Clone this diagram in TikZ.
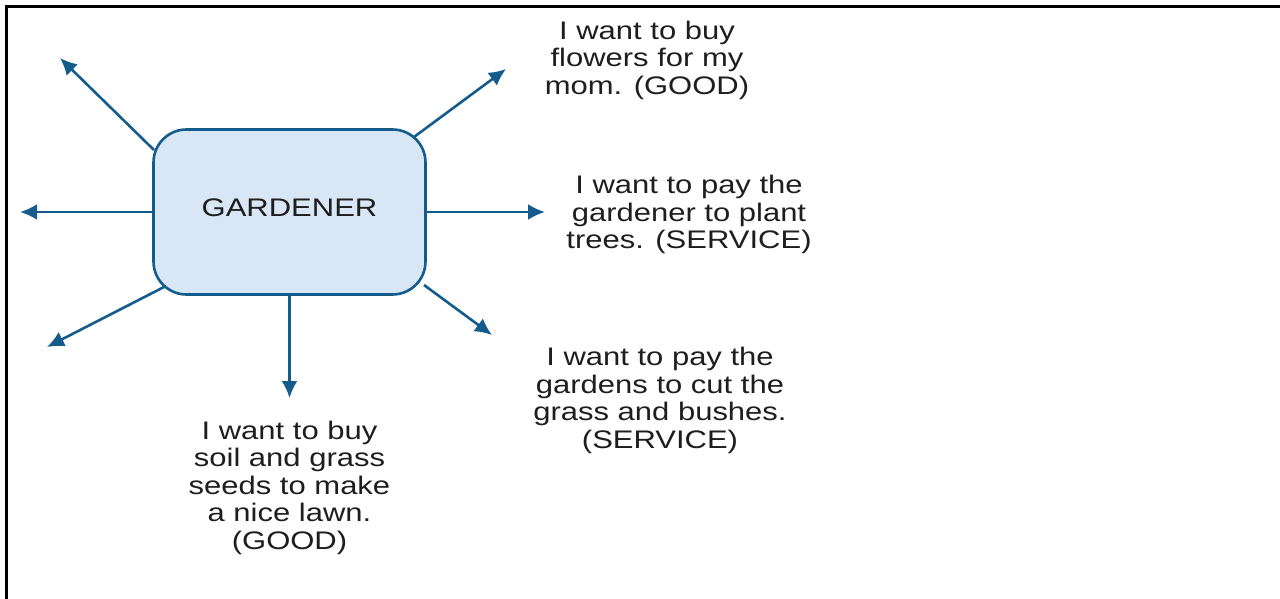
\documentclass[tikz,border=0pt]{standalone}
\usepackage{fontspec}
\setmainfont[FakeStretch=1.22]{Liberation Sans}
\usetikzlibrary{arrows.meta}
\definecolor{edgeblue}{HTML}{135C8C}
\definecolor{boxfill}{HTML}{D8E6F5}
\definecolor{txt}{HTML}{1E1E1E}
\tikzset{
  every picture/.style={x=1pt,y=-1pt},
  label/.style={align=center,text=txt,font=\fontsize{25.4}{27.5}\selectfont,inner sep=0pt},
  spoke/.style={draw=edgeblue,line width=2.6pt,-{Latex[length=17pt,width=16pt]}},
  hub/.style={draw=edgeblue,fill=boxfill,line width=2.6pt,rounded corners=33pt,minimum width=272pt,minimum height=165pt,inner sep=0pt}
}
\begin{document}
\begin{tikzpicture}[x=1pt,y=-1pt]
\useasboundingbox (0,0) rectangle (1280,599);
\fill[white] (0,0) rectangle (1280,599);
\draw[black,line width=3.4pt] (6.5,599) -- (6.5,6.5) -- (1280,6.5);
\coordinate (nw) at (60,58);
\coordinate (w) at (20,212);
\coordinate (sw) at (47,347);
\coordinate (s) at (289.5,398);
\coordinate (se) at (492,335);
\coordinate (e) at (545,212);
\coordinate (ne) at (506,69);
\coordinate (hnw) at (154,150);
\coordinate (hw) at (153,212);
\coordinate (hsw) at (164,287);
\coordinate (hs) at (289.5,295);
\coordinate (hse) at (424,285);
\coordinate (he) at (426,212);
\coordinate (hne) at (414,137);
\draw[spoke] (hnw) -- (nw);
\draw[spoke] (hw) -- (w);
\draw[spoke] (hsw) -- (sw);
\draw[spoke] (hs) -- (s);
\draw[spoke] (hse) -- (se);
\draw[spoke] (he) -- (e);
\draw[spoke] (hne) -- (ne);
\node[hub] (hub) at (289.5,212) {};
\node[label] (title) at (289.5,208) {GARDENER};
\node[label] (t1) at (647,60) {I want to buy\\flowers for my\\mom. (GOOD)};
\node[label] (t2) at (689,214.5) {I want to pay the\\gardener to plant\\trees. (SERVICE)};
\node[label] (t3) at (660,400.5) {I want to pay the\\gardens to cut the\\grass and bushes.\\(SERVICE)};
\node[label] (t4) at (289.5,487.5) {I want to buy\\soil and grass\\seeds to make\\a nice lawn.\\(GOOD)};
\end{tikzpicture}
\end{document}
